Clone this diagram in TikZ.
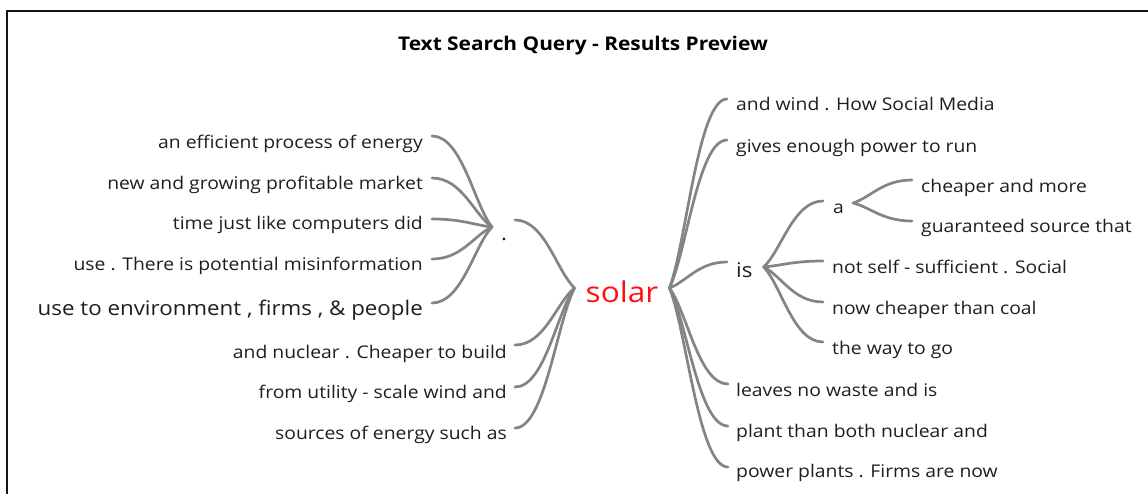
\documentclass[tikz,border=0pt]{standalone}
\usepackage{fontspec}
\setmainfont{Open Sans}[FakeStretch=1.105]
\usetikzlibrary{calc}
\definecolor{linkgray}{RGB}{132,132,132}
\definecolor{txt}{RGB}{30,30,30}
\definecolor{solarred}{RGB}{255,16,16}
\definecolor{framecol}{RGB}{20,20,20}
\newcommand\mmlink[2]{\draw[link] let \p1=#1, \p2=#2 in (\p1) .. controls ({\x1+0.3*(\x2-\x1)},{\y1+0.25*(\y2-\y1)}) and ({\x1+0.5*(\x2-\x1)},\y2) .. (\p2);}
\tikzset{
  link/.style={draw=linkgray, line width=2.7pt, line cap=round},
  leaf/.style={text=txt, inner sep=0pt, font=\fontsize{17.5}{20}\selectfont},
  bigleaf/.style={text=txt, inner sep=0pt, font=\fontsize{20.2}{24}\selectfont},
  rootword/.style={text=solarred, inner sep=0pt, font=\fontsize{28.6}{32}\selectfont},
  titletext/.style={text=black, inner sep=0pt, font=\fontsize{18.9}{22}\selectfont\bfseries},
  frameline/.style={draw=framecol, line width=1.6pt}
}
\begin{document}
\begin{tikzpicture}[x=1pt,y=-1pt]
\useasboundingbox (0,0) rectangle (1148,493);
\draw[frameline] (7,494) -- (7,11) -- (1149,11);
\node[titletext, anchor=base] (title) at (583,50) {Text Search Query - Results Preview};
% left leaves
\node[leaf, anchor=base east] (l1) at (423,148) {an efficient process of energy};
\node[leaf, anchor=base east] (l2) at (423,189) {new and growing profitable market};
\node[leaf, anchor=base east] (l3) at (423,229) {time just like computers did};
\node[leaf, anchor=base east] (l4) at (423,270) {use . There is potential misinformation};
\node[bigleaf, anchor=base east] (l5) at (423,315) {use to environment , firms , \& people};
\node[leaf, anchor=base east] (l6) at (507,358) {and nuclear . Cheaper to build};
\node[leaf, anchor=base east] (l7) at (507,398) {from utility - scale wind and};
\node[leaf, anchor=base east] (l8) at (507,439) {sources of energy such as};
\node[bigleaf, anchor=base] (dot) at (504,240) {.};
\node[rootword, anchor=base] (solar) at (622,302) {solar};
% right leaves
\node[leaf, anchor=base west] (r1) at (736,110) {and wind . How Social Media};
\node[leaf, anchor=base west] (r2) at (736,152) {gives enough power to run};
\node[bigleaf, anchor=base west] (is) at (736,277) {is};
\node[leaf, anchor=base west] (r3) at (736,396) {leaves no waste and is};
\node[leaf, anchor=base west] (r4) at (736,437) {plant than both nuclear and};
\node[leaf, anchor=base west] (r5) at (736,477) {power plants . Firms are now};
\node[leaf, anchor=base west] (a) at (833,213) {a};
\node[leaf, anchor=base west] (s1) at (832,273) {not self - sufficient . Social};
\node[leaf, anchor=base west] (s2) at (832,314) {now cheaper than coal};
\node[leaf, anchor=base west] (s3) at (832,354) {the way to go};
\node[leaf, anchor=base west] (t1) at (921,192) {cheaper and more};
\node[leaf, anchor=base west] (t2) at (921,232) {guaranteed source that};
% hubs
\coordinate (dotW) at ([xshift=-12pt,yshift=13pt]dot.base);
\coordinate (dotE) at ([xshift=11pt,yshift=20pt]dot.base);
\coordinate (solarW) at ([xshift=-11pt,yshift=14pt]solar.base west);
\coordinate (solarE) at ([xshift=11pt,yshift=14pt]solar.base east);
\coordinate (isW) at ([xshift=-9pt,yshift=15pt]is.base west);
\coordinate (isE) at ([xshift=11pt,yshift=10pt]is.base east);
\coordinate (aW) at ([xshift=-10pt,yshift=12pt]a.base west);
\coordinate (aE) at ([xshift=9pt,yshift=10pt]a.base east);
% links
\mmlink{(dotW)}{([xshift=9pt,yshift=12pt]l1.base east)}
\mmlink{(dotW)}{([xshift=9pt,yshift=11pt]l2.base east)}
\mmlink{(dotW)}{([xshift=9pt,yshift=10pt]l3.base east)}
\mmlink{(dotW)}{([xshift=9pt,yshift=11pt]l4.base east)}
\mmlink{(dotW)}{([xshift=9pt,yshift=12pt]l5.base east)}
\mmlink{(solarW)}{(dotE)}
\mmlink{(solarW)}{([xshift=8pt,yshift=13pt]l6.base east)}
\mmlink{(solarW)}{([xshift=8pt,yshift=11pt]l7.base east)}
\mmlink{(solarW)}{([xshift=8pt,yshift=11pt]l8.base east)}
\mmlink{(solarE)}{([xshift=-9pt,yshift=11pt]r1.base west)}
\mmlink{(solarE)}{([xshift=-9pt,yshift=12pt]r2.base west)}
\mmlink{(solarE)}{(isW)}
\mmlink{(solarE)}{([xshift=-8pt,yshift=12pt]r3.base west)}
\mmlink{(solarE)}{([xshift=-8pt,yshift=11pt]r4.base west)}
\mmlink{(solarE)}{([xshift=-8pt,yshift=10pt]r5.base west)}
\mmlink{(isE)}{(aW)}
\mmlink{(isE)}{([xshift=-9pt,yshift=12pt]s1.base west)}
\mmlink{(isE)}{([xshift=-9pt,yshift=12pt]s2.base west)}
\mmlink{(isE)}{([xshift=-9pt,yshift=12pt]s3.base west)}
\mmlink{(aE)}{([xshift=-9pt,yshift=12pt]t1.base west)}
\mmlink{(aE)}{([xshift=-9pt,yshift=11pt]t2.base west)}
\end{tikzpicture}
\end{document}
